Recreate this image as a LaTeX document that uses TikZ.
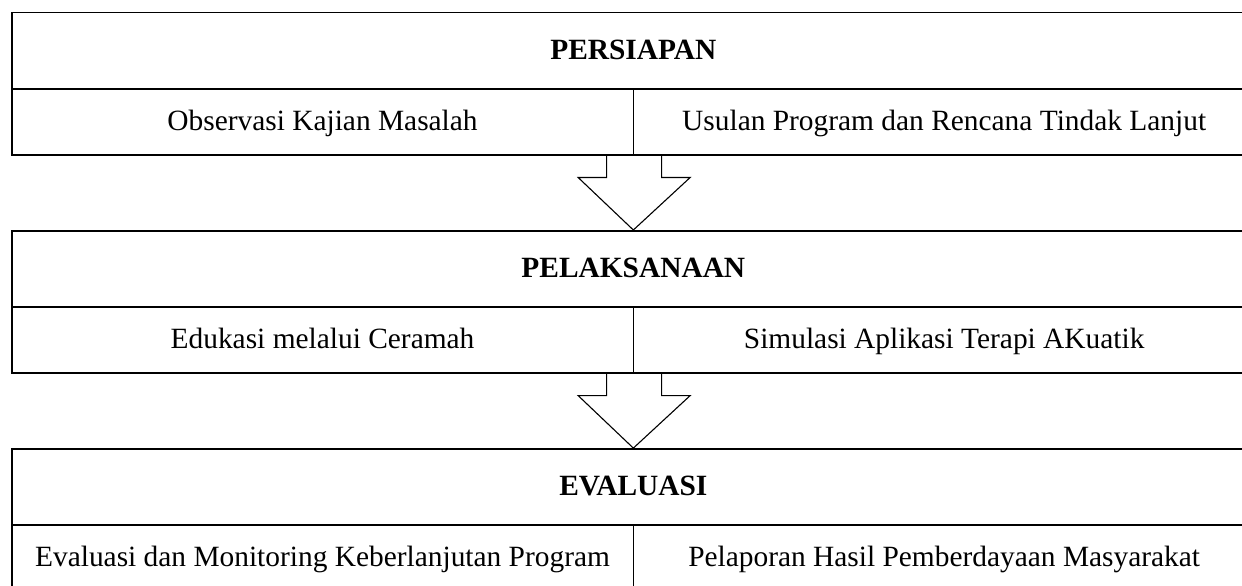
\documentclass[tikz,border=0pt]{standalone}
\usepackage{fontspec}
\setmainfont{Liberation Serif}
\usetikzlibrary{shapes,arrows,positioning,calc}
\tikzstyle{every node}=[font=\fontsize{29.4}{35}\selectfont, text height=22pt, text depth=5pt]
\tikzstyle{header} = [rectangle, draw, line width=1.6pt, minimum width=1243.3pt,
    minimum height=76pt, inner sep=0pt, font=\fontsize{29.4}{35}\selectfont\bfseries]
\tikzstyle{cell} = [rectangle, draw, line width=1.6pt, minimum width=621.65pt,
    minimum height=66pt, inner sep=0pt]
\tikzstyle{bigarrow} = [draw, line width=1.1pt, line join=miter]

\begin{document}
\begin{tikzpicture}[x=1pt, y=-1pt]
    \useasboundingbox (0,0) rectangle (1242,586);
    % Place nodes
    \node [header] (persiapan) at (633.35,50.7) {PERSIAPAN};
    \node [cell, below of=persiapan, node distance=71pt, xshift=-310.825pt] (observasi) {Observasi Kajian Masalah};
    \node [cell, right of=observasi, node distance=621.65pt] (usulan) {Usulan Program dan Rencana Tindak Lanjut};
    \node [header, below of=persiapan, node distance=218.1pt] (pelaksanaan) {PELAKSANAAN};
    \node [cell, below of=pelaksanaan, node distance=71pt, xshift=-310.825pt] (edukasi) {Edukasi melalui Ceramah};
    \node [cell, right of=edukasi, node distance=621.65pt] (simulasi) {Simulasi Aplikasi Terapi AKuatik};
    \node [header, below of=pelaksanaan, node distance=218.1pt] (evaluasi) {EVALUASI};
    \node [cell, below of=evaluasi, node distance=71pt, xshift=-310.825pt] (monitoring) {Evaluasi dan Monitoring Keberlanjutan Program};
    \node [cell, right of=monitoring, node distance=621.65pt] (pelaporan) {Pelaporan Hasil Pemberdayaan Masyarakat};

    % Draw edges
    \path [bigarrow] ($(observasi.south east)+(-27.5,0)$) -- ++(0,22) -- ++(-28.5,0)
        -- (pelaksanaan.north) -- ($(observasi.south east)+(56,22)$) -- ++(-28.5,0) -- ++(0,-22);
    \path [bigarrow] ($(edukasi.south east)+(-27.5,0)$) -- ++(0,22) -- ++(-28.5,0)
        -- (evaluasi.north) -- ($(edukasi.south east)+(56,22)$) -- ++(-28.5,0) -- ++(0,-22);
\end{tikzpicture}
\end{document}
